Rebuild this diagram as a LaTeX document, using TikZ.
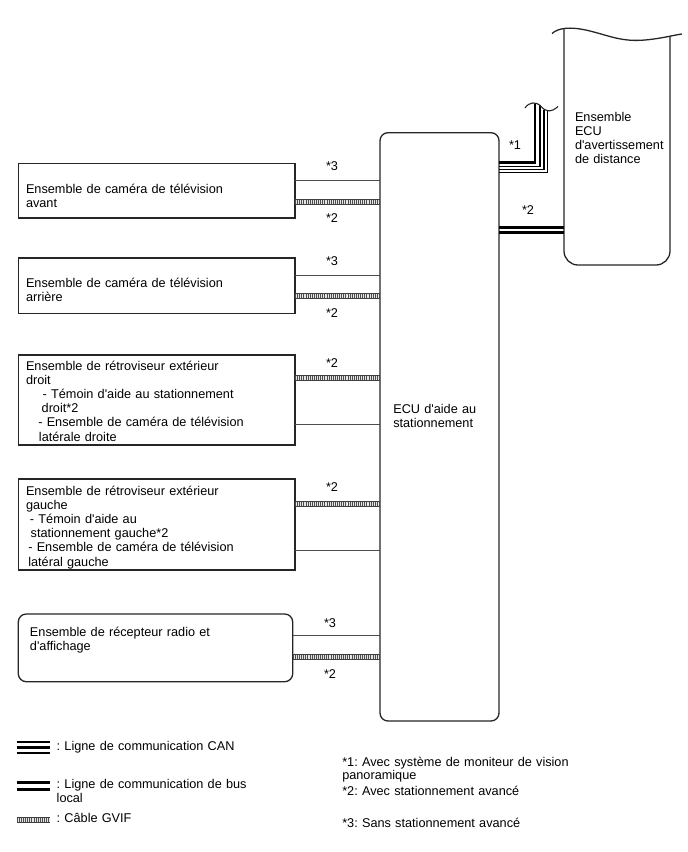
\documentclass[tikz,border=0pt]{standalone}
\usepackage{fontspec}
\setmainfont{Liberation Sans}[Ligatures=TeXOff]
\frenchspacing
\begin{document}
\begin{tikzpicture}[x=1pt,y=-1pt,
  every node/.style={inner sep=0pt, outer sep=0pt},
  txt/.style={font=\fontsize{12.7}{14.2}\selectfont, anchor=base west, align=left, text width=270pt},
  lbl/.style={font=\fontsize{12.7}{14.2}\selectfont, anchor=base},
  boxs/.style={draw=black!85, line width=1.3pt},
  thinl/.style={draw=black!70, line width=1pt},
  gvif/.style={line width=6.2pt, draw=black!75, postaction={draw=black!10, line width=4.2pt}, postaction={draw=black!70, line width=4.2pt, dash pattern=on 0.9pt off 1.2pt}},
  thk/.style={line width=2.6pt, draw=black},
  thn/.style={line width=1.2pt, draw=black}
]
\fill[white] (0,0) rectangle (688,852);
\useasboundingbox (0,0) rectangle (688,852);

% boxes
\node[boxs, minimum width=276.7pt, minimum height=54.7pt] (b1) at (156.65,190.65) {};
\node[boxs, minimum width=276.7pt, minimum height=55.5pt] (b2) at (156.65,285.75) {};
\node[boxs, minimum width=276.7pt, minimum height=90pt] (b3) at (156.65,400) {};
\node[boxs, minimum width=276.7pt, minimum height=91pt] (b4) at (156.65,524.5) {};
\node[boxs, rounded corners=8pt, minimum width=274.4pt, minimum height=67.7pt] (b5) at (155.5,647.85) {};
\node[boxs, rounded corners=8pt, minimum width=119pt, minimum height=588.3pt] (ecu) at (439.5,426.85) {};
\node[minimum width=106pt, minimum height=236.5pt] (ecu2) at (617,146.75) {};

% box texts
\node[txt] (t1) at (26,193.3) {Ensemble de caméra de télévision\\avant};
\node[txt] (t2) at (26,287) {Ensemble de caméra de télévision\\arrière};
\node[txt] (t3) at (26,370) {Ensemble de rétroviseur extérieur\\droit\\\hspace*{16.7pt}- Témoin d'aide au stationnement\\\hspace*{15.7pt}droit*2\\\hspace*{12.3pt}- Ensemble de caméra de télévision\\\hspace*{13pt}latérale droite};
\node[txt] (t4) at (26,495) {Ensemble de rétroviseur extérieur\\gauche\\\hspace*{4pt}- Témoin d'aide au\\\hspace*{4.7pt}stationnement gauche*2\\\hspace*{2.3pt}- Ensemble de caméra de télévision\\\hspace*{2.3pt}latéral gauche};
\node[txt] (t5) at (30,636.7) {Ensemble de récepteur radio et\\d'affichage};
\node[txt, font=\fontsize{12.7}{13.5}\selectfont] (te) at (393.3,413.5) {ECU d'aide au\\stationnement};
\node[txt, font=\fontsize{12.7}{14}\selectfont] (te2) at (575,121.5) {Ensemble\\ECU\\d'avertissement\\de distance};

% right ECU outline
\draw[boxs, rounded corners=14pt] (ecu2.north west) -- (ecu2.south west) -- (ecu2.south east) -- (ecu2.east |- 0,36.1);
\draw[boxs] (552,33.5) .. controls (558,28) and (570,26) .. (590,31) .. controls (610,36) and (622,42) .. (645,40) .. controls (662,38.5) and (674,35) .. (682,34);

% connections box1..5
\draw[thinl] (b1.east |- 0,180.7) -- (ecu.west |- 0,180.7);
\draw[gvif] (b1.east |- 0,201.7) -- (ecu.west |- 0,201.7);
\draw[thinl] (b2.east |- 0,275.5) -- (ecu.west |- 0,275.5);
\draw[gvif] (b2.east |- 0,296) -- (ecu.west |- 0,296);
\draw[gvif] (b3.east |- 0,378.3) -- (ecu.west |- 0,378.3);
\draw[thinl] (b3.east |- 0,424) -- (ecu.west |- 0,424);
\draw[gvif] (b4.east |- 0,504.3) -- (ecu.west |- 0,504.3);
\draw[thinl] (b4.east |- 0,550) -- (ecu.west |- 0,550);
\draw[thinl] (b5.east |- 0,635.7) -- (ecu.west |- 0,635.7);
\draw[gvif] (b5.east |- 0,657.3) -- (ecu.west |- 0,657.3);

% labels
\node[lbl] (l1a) at (332,170.5) {*3};
\node[lbl] (l1b) at (332,222.5) {*2};
\node[lbl] (l2a) at (332,265.5) {*3};
\node[lbl] (l2b) at (332,317.5) {*2};
\node[lbl] (l3a) at (332,367.5) {*2};
\node[lbl] (l4a) at (332,491.5) {*2};
\node[lbl] (l5a) at (330,627) {*3};
\node[lbl] (l5b) at (330,678.5) {*2};
\node[lbl] (l6a) at (515,149.5) {*1};
\node[lbl] (l6b) at (528,214.5) {*2};

% ECU to right ECU (*2)
\draw[thk] (ecu.east |- 0,227.7) -- (ecu2.west |- 0,227.7);
\draw[thk] (ecu.east |- 0,232.5) -- (ecu2.west |- 0,232.5);

% *1 lines with break
\coordinate (w1) at (535,103.2);
\coordinate (w2) at (540,105.3);
\coordinate (w3) at (544,109.5);
\coordinate (w4) at (547.3,110.7);
\draw[thk, line width=2.7pt] (ecu.east |- 0,162.7) -| (w1);
\draw[thn] (ecu.east |- 0,166.7) -| (w2);
\draw[thn] (ecu.east |- 0,169.6) -| (w3);
\draw[thn] (ecu.east |- 0,172.7) -| (w4);
\draw[boxs, line width=1.1pt] (525,108) .. controls (529,102) and (536,101) .. (541,106.5) .. controls (545,111.5) and (551,113) .. (558,106.5);

% legend
\draw[thk, line width=2.4pt] (16.7,742) -- (50,742);
\draw[thk, line width=2.4pt] (16.7,747.5) -- (50,747.5);
\draw[thk, line width=2.4pt] (16.7,753.2) -- (50,753.2);
\node[txt] (lg1) at (56.7,750.7) {: Ligne de communication CAN};
\draw[thk, line width=2.8pt] (16.7,782.2) -- (50,782.2);
\draw[thk, line width=2.8pt] (16.7,789.3) -- (50,789.3);
\node[txt] (lg2) at (56.7,788.3) {: Ligne de communication de bus\\local};
\draw[gvif, line width=5.4pt] (16.7,820) -- (50,820);
\node[txt] (lg3) at (56.7,822.7) {: Câble GVIF};

% notes
\node[txt, font=\fontsize{12.7}{13.5}\selectfont] (n1) at (342.3,766) {*1: Avec système de moniteur de vision\\panoramique};
\node[txt] (n2) at (342.3,795.5) {*2: Avec stationnement avancé};
\node[txt] (n3) at (342.3,827.5) {*3: Sans stationnement avancé};
\end{tikzpicture}
\end{document}
